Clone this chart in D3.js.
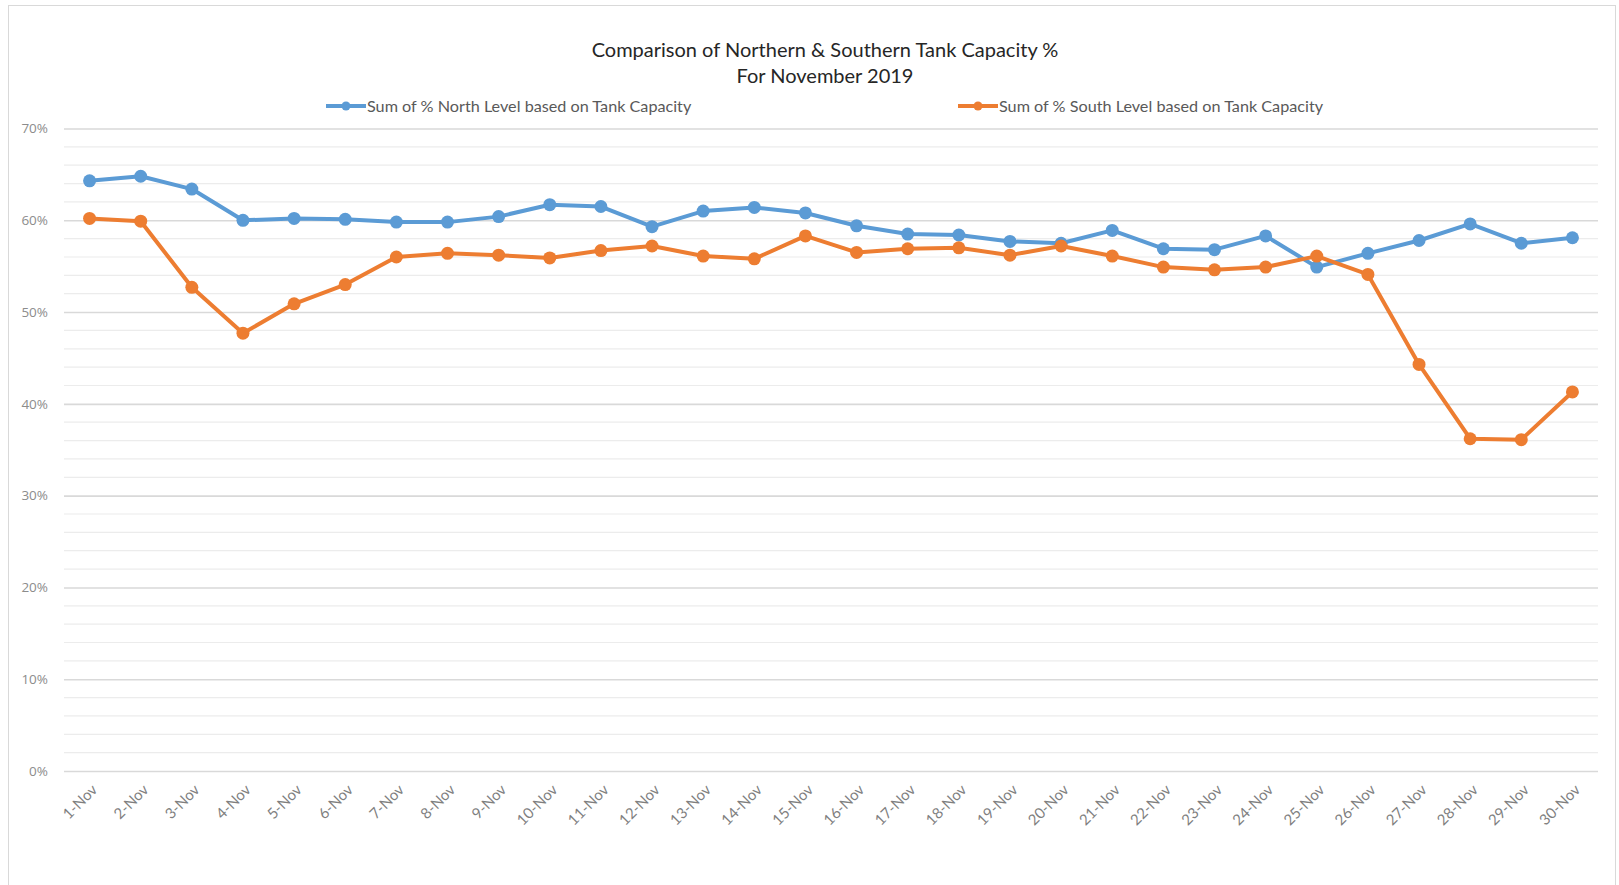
<!DOCTYPE html>
<html>
<head>
<meta charset="utf-8">
<script src="https://cdn.jsdelivr.net/npm/d3@7"></script>
<style>
  body { margin: 0; background: #fff; }
  text { font-family: Lato, "Open Sans", sans-serif; }
</style>
</head>
<body>
<div id="chart"></div>
<script>
// data
var days = ["1-Nov","2-Nov","3-Nov","4-Nov","5-Nov","6-Nov","7-Nov","8-Nov","9-Nov","10-Nov",
  "11-Nov","12-Nov","13-Nov","14-Nov","15-Nov","16-Nov","17-Nov","18-Nov","19-Nov","20-Nov",
  "21-Nov","22-Nov","23-Nov","24-Nov","25-Nov","26-Nov","27-Nov","28-Nov","29-Nov","30-Nov"];

var north = [64.3,64.8,63.4,60.0,60.2,60.1,59.8,59.8,60.4,61.7,
  61.5,59.3,61.0,61.4,60.8,59.4,58.5,58.4,57.7,57.5,
  58.9,56.9,56.8,58.3,54.9,56.4,57.8,59.6,57.5,58.1];

var south = [60.2,59.9,52.7,47.7,50.9,53.0,56.0,56.4,56.2,55.9,
  56.7,57.2,56.1,55.8,58.3,56.5,56.9,57.0,56.2,57.2,
  56.1,54.9,54.6,54.9,56.1,54.1,44.3,36.2,36.1,41.3];

var yTicks = [0,10,20,30,40,50,60,70];
var seriesNames = ["Sum of % North Level based on Tank Capacity","Sum of % South Level based on Tank Capacity"];
var colors = ["#5b9bd5","#ed7d31"];

var W = 1619, H = 885;
var m = {l:64, r:21, t:128.5, b:114};

var svg = d3.select("#chart").append("svg")
  .attr("width", W)
  .attr("height", H);

// outer frame
svg.append("rect")
  .attr("x", 8.5).attr("y", 5.5)
  .attr("width", 1607).attr("height", 900)
  .attr("fill", "none")
  .attr("stroke", "#d9d9d9");

var x = d3.scaleBand().domain(days).range([m.l, W - m.r]);
var y = d3.scaleLinear().domain([0,70]).range([H - m.b, m.t]);

// minor gridlines every 2%
var minor = d3.range(0, 71, 2).filter(function(v) { return v % 10 != 0; });
svg.append("g").selectAll("line").data(minor).enter().append("line")
  .attr("x1", m.l).attr("x2", W - m.r)
  .attr("y1", function(d) { return y(d); })
  .attr("y2", function(d) { return y(d); })
  .attr("stroke", "#ececec")
  .attr("stroke-width", 1.2);

// major gridlines
var yAxis = svg.append("g")
  .attr("transform", "translate(" + m.l + ",0)")
  .call(d3.axisLeft(y).tickValues(yTicks).tickSize(-(W - m.l - m.r)).tickPadding(16)
    .tickFormat(function(d) { return d + "%"; }));
yAxis.select(".domain").remove();
yAxis.selectAll(".tick line").attr("stroke", "#d9d9d9").attr("stroke-width", 1.6);
yAxis.selectAll(".tick text")
  .attr("fill", "#8c8c8c")
  .style("font-size", "13.5px")
  .style("font-family", "'Open Sans', sans-serif");

// x labels
svg.append("g").selectAll("text").data(days).enter().append("text")
  .attr("transform", function(d) {
    return "translate(" + (x(d) + x.bandwidth() / 2 + 5) + "," + (H - m.b + 16) + ") rotate(-45)";
  })
  .attr("text-anchor", "end")
  .attr("dy", "0.35em")
  .attr("fill", "#7f7f7f")
  .style("font-size", "15px")
  .text(function(d) { return d; });

var cx = function(d, i) { return x(days[i]) + x.bandwidth() / 2; };
var line = d3.line()
  .x(function(d, i) { return cx(d, i); })
  .y(function(d) { return y(d); });

[north, south].forEach(function(s, k) {
  svg.append("path")
    .datum(s)
    .attr("d", line)
    .attr("fill", "none")
    .attr("stroke", colors[k])
    .attr("stroke-width", 4)
    .attr("stroke-linejoin", "round");
  svg.append("g").selectAll("circle").data(s).enter().append("circle")
    .attr("cx", cx)
    .attr("cy", function(d) { return y(d); })
    .attr("r", 6.5)
    .attr("fill", colors[k]);
});

// title
svg.append("text")
  .attr("x", 825).attr("y", 57)
  .attr("text-anchor", "middle")
  .attr("fill", "#262626")
  .style("font-size", "20px")
  .text("Comparison of Northern & Southern Tank Capacity %");
svg.append("text")
  .attr("x", 825).attr("y", 83)
  .attr("text-anchor", "middle")
  .attr("fill", "#262626")
  .style("font-size", "20px")
  .text("For November 2019");

// legend
var legX = [326, 958];
seriesNames.forEach(function(name, k) {
  var g = svg.append("g").attr("transform", "translate(" + legX[k] + ",106)");
  g.append("line").attr("x1", 0).attr("x2", 40).attr("y1", 0).attr("y2", 0)
    .attr("stroke", colors[k]).attr("stroke-width", 4);
  g.append("circle").attr("cx", 20).attr("cy", 0).attr("r", 4.5).attr("fill", colors[k]);
  g.append("text").attr("x", 41).attr("y", 0).attr("dy", "0.35em")
    .attr("fill", "#595959")
    .style("font-size", "16.2px")
    .text(name);
});
</script>
</body>
</html>
